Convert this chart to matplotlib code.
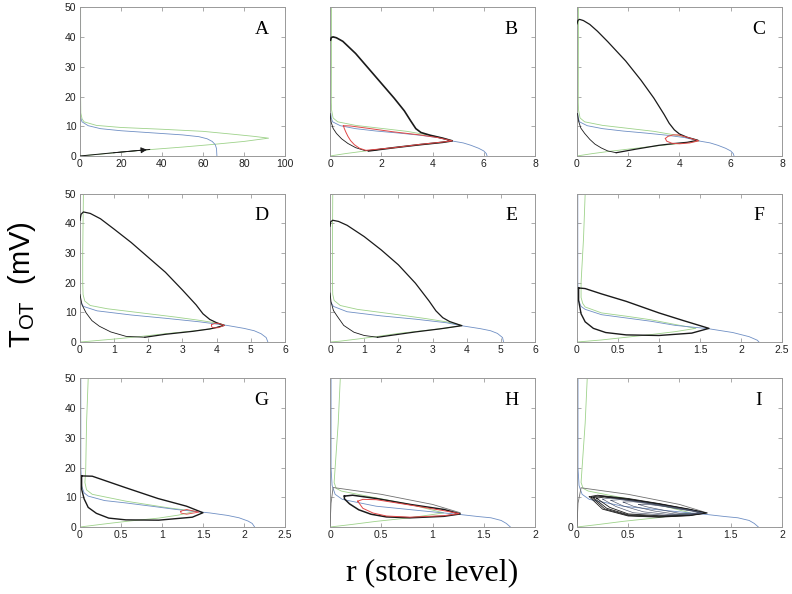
import matplotlib
matplotlib.use('Agg')
import matplotlib.pyplot as plt

# ---- curves: (r, T_OT) pairs ----
A_green = [(0.3,50),(0.3,20),(0.4,14.5),(1,12.5),(2,11.5),(8,10.3),(20,9.6),(40,9.0),(60,8.3),(75,7.3),(85,6.6),(92,6.0),
           (80,4.9),(65,3.9),(50,3.0),(35,2.2),(20,1.3),(10,0.6),(0,0)]
A_blue = [(0,13.5),(1,11.5),(4,10.2),(10,9.2),(20,8.5),(35,7.8),(50,7.1),(58,6.5),(62,5.8),(64.5,4.9),(66,3.8),
          (66.6,2.5),(66.8,0)]
A_black = [(0,0),(15,1.0),(34,2.2)]

B_green = [(0.06,50),(0.05,18),(0.06,15.5),(0.12,12.8),(0.3,11.5),(1,10.3),(2,9.3),(3,8.3),(4,6.8),(4.5,5.8),(4.77,5.1),
           (4.4,4.6),(4,4.2),(3,3.3),(2,2.3),(1.3,1.6),(0.6,0.8),(0,0)]
B_blue = [(0.02,15),(0.05,12.8),(0.1,11.5),(0.4,10.2),(1,9.2),(1.8,8.4),(2.7,7.7),(3.5,7.0),(4.2,6.2),(4.8,5.0),(5.2,4.4),
          (5.5,3.6),(5.8,2.6),(6.0,1.7),(6.1,0.8),(6.13,0)]
B_black = [(0.02,39),(0.05,39.9),(0.12,40.1),(0.25,39.8),(0.5,38.6),(1,34.5),(1.5,29.5),(2,24.5),(2.5,19.5),(2.9,15.2),
           (3.15,11.8),(3.35,9.2),(3.55,7.9),(3.9,7.0),(4.4,6.0),(4.77,5.1),(4.4,4.6),(3.5,3.8),(2.5,2.8),(1.5,1.7)]
B_black2 = [(0,14.3),(0.04,11.5),(0.12,9.3),(0.25,7.6),(0.45,5.8),(0.7,4.2),(1.0,2.8),(1.37,1.8),(1.7,1.9),(2,2.3)]
B_red = [(0.52,10.2),(0.56,9.2),(0.62,8),(0.7,6.6),(0.8,5.2),(0.95,3.8),(1.15,2.6),(1.4,1.9),(2.5,2.8),(3.5,3.9),
         (4.3,4.6),(4.77,5.1),(4.2,6.2),(3.5,7.1),(2.5,8.1),(1.5,9.3),(0.8,10.1),(0.52,10.2)]

C_green = B_green
C_blue = B_blue
C_black = [(0.0,44.5),(0.04,45.7),(0.1,46),(0.25,45.6),(0.5,44.3),(0.8,42),(1.2,38.5),(1.9,32),(2.5,25.5),(3.0,19.5),
           (3.4,14),(3.6,11),(3.8,8.8),(4.0,7.4),(4.3,6.3),(4.72,5.3),(4.3,4.6),(3.8,4.2),(3.2,3.6),(2.3,2.3),(1.53,1.1)]
C_black2 = [(0.02,14.3),(0.06,11.8),(0.15,9.4),(0.3,7.6),(0.5,5.6),(0.7,4.0),(0.95,2.7),(1.2,1.7),(1.53,1.1)]
C_red = [(3.45,5.9),(3.55,6.6),(3.75,7.1),(3.95,7.1),(4.3,6.3),(4.75,5.1),(4.4,4.4),(4.0,4.1),(3.7,4.3),(3.5,5.0),(3.45,5.9)]

D_green = [(0.1,50),(0.08,30),(0.08,20),(0.09,16),(0.14,13.8),(0.3,12.3),(0.8,11.2),(1.8,9.8),(2.8,8.4),(3.5,7.3),(4.0,6.4),
           (4.23,5.8),(4.0,4.9),(3.8,4.4),(3.3,3.7),(2.5,2.8),(1.8,1.9),(1.0,1.0),(0.4,0.4),(0,0)]
D_blue = [(0.02,13.5),(0.1,12),(0.5,10.5),(1.5,9.1),(2.5,8),(3.5,6.8),(4.3,5.6),(4.8,4.6),(5.1,3.8),(5.3,2.8),(5.45,1.5),
          (5.5,0)]
D_black = [(0,41),(0.03,43),(0.1,43.8),(0.3,43.3),(0.6,41.5),(1.0,38),(1.5,33.5),(2.0,28.5),(2.5,23.5),(3.0,17.5),
           (3.4,12.5),(3.6,9.5),(3.8,7.6),(4.0,6.5),(4.22,5.6),(4.0,4.9),(3.8,4.4),(3.3,3.6),(2.5,2.6),(1.9,1.6)]
D_black2 = [(0.0,16),(0.06,12.5),(0.18,9.8),(0.35,7.2),(0.57,5.3),(0.9,3.4),(1.35,1.9),(1.9,1.6)]
D_red = [(3.85,5.8),(3.95,6.3),(4.05,6.3),(4.23,5.6),(4.05,4.8),(3.9,4.8),(3.85,5.2),(3.85,5.8)]

E_green = [(0.08,50),(0.07,30),(0.07,20),(0.08,16),(0.12,14),(0.3,12.3),(0.8,11.0),(1.8,9.5),(2.8,7.9),(3.4,6.8),(3.86,5.6),
           (3.4,4.7),(2.8,3.9),(2.0,2.9),(1.4,1.9),(0.8,1.0),(0.3,0.3),(0,0)]
E_blue = [(0.02,13.5),(0.1,12),(0.5,10.2),(1.5,8.8),(2.5,7.7),(3.4,6.5),(3.9,5.4),(4.4,4.5),(4.7,3.8),(4.9,2.9),(5.05,1.5),
          (5.08,0)]
E_black = [(0,39),(0.02,40.5),(0.08,41),(0.25,40.6),(0.5,39.3),(1.0,35.5),(1.5,31),(2.0,26),(2.5,19.8),(2.9,13.8),
           (3.1,10.5),(3.3,8.2),(3.5,6.9),(3.86,5.5),(3.2,4.4),(2.5,3.4),(1.39,1.6)]
E_black2 = [(0,16.5),(0.03,13.5),(0.1,10.6),(0.21,8.7),(0.4,5.6),(0.7,3.3),(1.0,2.2),(1.39,1.6)]

F_green = [(0.1,50),(0.08,35),(0.05,20),(0.05,15),(0.07,13),(0.1,11.8),(0.3,9.8),(0.6,8.7),(0.9,7.5),(1.2,5.9),(1.45,4.6),
           (1.2,3.5),(0.9,2.5),(0.6,1.6),(0.3,0.7),(0,0)]
F_blue = [(0.01,50),(0.01,20),(0.02,14),(0.05,12),(0.1,11),(0.3,9.2),(0.6,8.1),(0.9,7.0),(1.2,5.6),(1.6,4.5),(1.9,3.2),
          (2.1,1.8),(2.2,0.6),(2.22,0)]
F_black = [(0.02,18.2),(0.1,18),(0.3,16.2),(0.6,13.7),(1.0,9.8),(1.3,7.2),(1.61,4.6),(1.4,3.0),(1.0,2.2),(0.6,2.4),
           (0.35,3.2),(0.2,4.6),(0.1,6.8),(0.05,9.5),(0.02,14),(0.02,18.2)]

G_green = [(0.1,50),(0.08,35),(0.07,19.5),(0.06,15),(0.08,12.5),(0.15,11),(0.56,8.7),(1.09,6.4),(1.41,5.3),(1.2,4.0),
           (0.96,3.0),(0.6,2.0),(0.35,1.2),(0,0)]
G_blue = [(0.01,50),(0.01,20),(0.02,13.8),(0.05,11.5),(0.1,10.4),(0.3,8.9),(0.56,8.1),(0.9,6.9),(1.17,5.9),(1.58,4.75),
          (1.8,3.9),(1.94,3.1),(2.05,2.0),(2.1,1.2),(2.13,0)]
G_black = [(0.02,17.2),(0.15,17.1),(0.55,13.3),(0.95,9.6),(1.3,7.0),(1.5,4.8),(1.37,3.3),(0.96,2.3),(0.56,2.4),
           (0.35,3.0),(0.2,4.6),(0.1,6.6),(0.05,9.5),(0.02,12.7),(0.02,17.2)]
G_red = [(1.23,5.3),(1.3,5.9),(1.45,5.0),(1.3,4.3),(1.23,4.7),(1.23,5.3)]

H_green = [(0.1,50),(0.08,35),(0.05,20),(0.04,15),(0.06,13),(0.11,12.1),(0.45,9.8),(0.78,7.6),(1.11,4.75),(0.78,3.1),
           (0.45,1.9),(0.2,0.8),(0,0)]
H_blue = [(0.01,50),(0.01,20),(0.02,14),(0.05,11),(0.12,9.3),(0.45,7.0),(0.94,5.3),(1.27,4.2),(1.45,3.5),(1.57,3.1),
          (1.67,2.2),(1.72,1.2),(1.76,0)]
H_gray = [(0.0,0.3),(0.01,8),(0.03,13.3),(0.5,11.0),(1.0,7.6),(1.27,4.8)]
H_black = [(0.14,10.4),(0.22,10.7),(0.45,9.6),(0.78,7.6),(1.11,5.9),(1.27,4.4),(1.11,3.6),(0.78,3.1),(0.55,3.4),
           (0.4,4.3),(0.28,5.8),(0.19,7.8),(0.14,9.5),(0.14,10.4)]
H_red = [(0.27,8.7),(0.32,9.3),(0.45,9.2),(0.78,7.4),(1.11,5.5),(1.26,4.5),(1.11,3.8),(0.78,3.3),(0.55,3.7),(0.42,4.7),
         (0.32,6.3),(0.27,8.7)]

I_green = H_green
I_blue = [(0.01,50),(0.01,20),(0.02,14),(0.05,11),(0.12,9.3),(0.45,7.0),(0.94,5.3),(1.27,4.2),(1.45,3.5),(1.57,3.1),
          (1.68,2.2),(1.73,1.2),(1.77,0)]
I_gray = [(0.0,0.3),(0.01,8),(0.04,13.2),(0.5,11.0),(1.0,7.6),(1.27,4.75)]
I_loops = [
    [(0.12,10.2),(0.2,10.7),(0.5,9.6),(0.8,7.9),(1.1,6.0),(1.27,4.7),(1.1,3.8),(0.8,3.3),(0.5,3.7),(0.25,6.0),(0.12,10.2)],
    [(0.14,10.1),(0.22,10.5),(0.5,9.4),(0.8,7.8),(1.1,5.9),(1.26,4.7),(1.1,3.9),(0.8,3.4),(0.5,3.9),(0.27,6.1),(0.14,10.1)],
    [(0.16,9.9),(0.24,10.3),(0.5,9.3),(0.8,7.7),(1.1,5.8),(1.25,4.7),(1.1,4.0),(0.8,3.6),(0.5,4.1),(0.29,6.3),(0.16,9.9)],
    [(0.19,9.7),(0.27,10.1),(0.5,9.1),(0.8,7.6),(1.1,5.8),(1.24,4.8),(1.1,4.1),(0.8,3.8),(0.5,4.4),(0.32,6.6),(0.19,9.7)],
    [(0.25,9.4),(0.33,9.7),(0.55,8.8),(0.85,7.2),(1.1,5.7),(1.23,4.8),(1.1,4.2),(0.85,4.0),(0.55,4.8),(0.38,6.9),(0.25,9.4)],
    [(0.33,9.0),(0.42,9.2),(0.62,8.4),(0.9,6.8),(1.1,5.6),(1.22,4.8),(1.1,4.3),(0.9,4.2),(0.65,5.1),(0.45,7.1),(0.33,9.0)],
    [(0.45,8.4),(0.55,8.5),(0.72,7.7),(0.95,6.4),(1.12,5.5),(1.21,4.8),(1.1,4.4),(0.95,4.4),(0.75,5.4),(0.55,7.0),(0.45,8.4)],
    [(0.6,7.6),(0.7,7.6),(0.85,6.9),(1.0,6.0),(1.13,5.3),(1.2,4.85),(1.1,4.5),(1.0,4.6),(0.85,5.6),(0.68,6.8),(0.6,7.6)],
]

x_ticks = {'A': [0,20,40,60,80,100], 'B': [0,2,4,6,8], 'C': [0,2,4,6,8], 'D': [0,1,2,3,4,5,6],
           'E': [0,1,2,3,4,5,6], 'F': [0,0.5,1,1.5,2,2.5], 'G': [0,0.5,1,1.5,2,2.5],
           'H': [0,0.5,1,1.5,2], 'I': [0,0.5,1,1.5,2]}
y_ticks = [0,10,20,30,40,50]

GREEN = '#9ed28a'
BLUE = '#6f8fc4'
RED = '#e04848'
BLACK = '#1a1a1a'
GRAY = '#707070'

def line(ax, pts, color, lw=0.6, z=2):
    r = [p[0] for p in pts]
    t = [p[1] for p in pts]
    ax.plot(r, t, color=color, lw=lw, zorder=z, solid_joinstyle='round')

fig = plt.figure(figsize=(7.92, 5.94), dpi=100)
lefts = [0.101, 0.4167, 0.7285]
bottoms = [0.7374, 0.4242, 0.1128]
W, H = 0.2588, 0.25

letters = ['A','B','C','D','E','F','G','H','I']
axes = {}
for i, L in enumerate(letters):
    row, col = divmod(i, 3)
    ax = fig.add_axes([lefts[col], bottoms[row], W, H])
    axes[L] = ax
    xt = x_ticks[L]
    ax.set_xlim(xt[0], xt[-1])
    ax.set_ylim(0, 50)
    ax.set_xticks(xt)
    ax.set_xticklabels([('%g' % v) for v in xt], fontsize=7.5, family='Liberation Sans')
    ax.set_yticks(y_ticks)
    if col == 0:
        ax.set_yticklabels([str(v) for v in y_ticks], fontsize=7.5, family='Liberation Sans')
    elif L == 'I':
        ax.set_yticklabels(['0','','','','',''], fontsize=7.5, family='Liberation Sans')
    else:
        ax.set_yticklabels([])
    ax.tick_params(direction='in', length=3, width=0.5, colors='#888888', labelcolor='#222222',
                   top=True, right=True, pad=2.5)
    for s in ax.spines.values():
        s.set_color('#999999')
        s.set_linewidth(0.7)
    ax.text(0.885, 0.85, L, transform=ax.transAxes, ha='center', va='center',
            fontsize=14, family='Liberation Serif')

ax = axes['A']
line(ax, A_green, GREEN); line(ax, A_blue, BLUE); line(ax, A_black, BLACK, 0.7, 3)
ax.annotate('', xy=(A_black[-1][0], A_black[-1][1]), xytext=(A_black[-2][0], A_black[-2][1]),
            arrowprops=dict(arrowstyle='-|>', color=BLACK, lw=0.6, mutation_scale=9), zorder=4)

ax = axes['B']
line(ax, B_green, GREEN); line(ax, B_blue, BLUE)
line(ax, B_black2, BLACK, 0.6, 3); line(ax, B_black, BLACK, 1.2, 3); line(ax, B_red, RED, 0.7, 4)

ax = axes['C']
line(ax, C_green, GREEN); line(ax, C_blue, BLUE)
line(ax, C_black2, BLACK, 0.6, 3); line(ax, C_black, BLACK, 0.9, 3); line(ax, C_red, RED, 0.7, 4)

ax = axes['D']
line(ax, D_green, GREEN); line(ax, D_blue, BLUE)
line(ax, D_black2, BLACK, 0.6, 3); line(ax, D_black, BLACK, 0.9, 3); line(ax, D_red, RED, 0.6, 4)

ax = axes['E']
line(ax, E_green, GREEN); line(ax, E_blue, BLUE)
line(ax, E_black2, BLACK, 0.6, 3); line(ax, E_black, BLACK, 0.9, 3)

ax = axes['F']
line(ax, F_green, GREEN); line(ax, F_blue, BLUE); line(ax, F_black, BLACK, 1.0, 3)

ax = axes['G']
line(ax, G_green, GREEN); line(ax, G_blue, BLUE); line(ax, G_black, BLACK, 1.0, 3); line(ax, G_red, RED, 0.6, 4)

ax = axes['H']
line(ax, H_green, GREEN); line(ax, H_blue, BLUE); line(ax, H_gray, GRAY, 0.6, 3)
line(ax, H_black, BLACK, 1.1, 3); line(ax, H_red, RED, 0.7, 4)

ax = axes['I']
line(ax, I_green, GREEN); line(ax, I_blue, BLUE); line(ax, I_gray, GRAY, 0.6, 3)
for k, lp in enumerate(I_loops):
    line(ax, lp, BLACK if k < 4 else '#4a5268', 0.6 if k < 4 else 0.45, 3)

fig.text(0.028, 0.52, r'T$_\mathregular{OT}$  (mV)', rotation=90, ha='center', va='center',
         fontsize=21, family='Liberation Sans')
fig.text(0.545, 0.035, 'r (store level)', ha='center', va='center', fontsize=23, family='Liberation Serif')

fig.savefig('out.png', dpi=100)
